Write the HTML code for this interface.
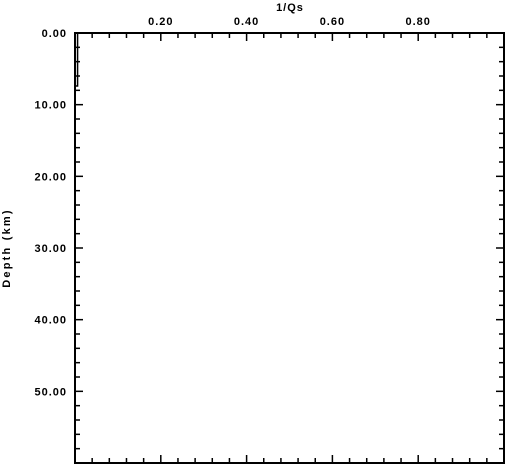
<!DOCTYPE html>
<html><head><meta charset="utf-8"><style>body{margin:0;background:#fff}svg{display:block}text{font-family:"Liberation Sans",sans-serif;font-weight:bold;font-size:11px;letter-spacing:1px}</style></head>
<body>
<svg id="chart" width="507" height="465" viewBox="0 0 507 465" xmlns="http://www.w3.org/2000/svg">
<g id="axes"></g>
<text x="290" y="11" text-anchor="middle" font-size="12">1/Qs</text>
<text transform="translate(10,248) rotate(-90)" text-anchor="middle" style="letter-spacing:2.2px">Depth (km)</text>
</svg>
<script>
const xTicks=[0.2,0.4,0.6,0.8];
const xTickLabels=["0.20","0.40","0.60","0.80"];
const yTicks=[0,10,20,30,40,50];
const yTickLabels=["0.00","10.00","20.00","30.00","40.00","50.00"];
const profileDepth=[0,7.4,7.4,60];
const profileQs=[0.006,0.006,0,0];
const L=75,R=504,T=33,B=463,xmax=1.0,ymax=60;
const X=v=>L+v/xmax*(R-L),Y=v=>T+v/ymax*(B-T);
const NS="http://www.w3.org/2000/svg",g=document.getElementById('axes');
function mk(t,a){const e=document.createElementNS(NS,t);for(const k in a)e.setAttribute(k,a[k]);g.appendChild(e);return e;}
for(let i=1;i<25;i++){const v=i*0.04,x=X(v),maj=Math.abs(v/0.2-Math.round(v/0.2))<1e-6;const len=maj?8:5;
const t1=mk('line',{x1:x,x2:x,y1:T,y2:T+len,stroke:'#000','stroke-width':1.5});
const t2=mk('line',{x1:x,x2:x,y1:B,y2:B-len,stroke:'#000','stroke-width':1.5});}
xTicks.forEach((v,i)=>{const t=mk('text',{x:X(v),y:25,'text-anchor':'middle'});t.textContent=xTickLabels[i];});
for(let d=2;d<ymax;d+=2){const y=Y(d),len=d%10==0?8:5;
const a=mk('line',{x1:L,x2:L+len,y1:y,y2:y,stroke:'#000','stroke-width':1.5});
const b=mk('line',{x1:R,x2:R-len,y1:y,y2:y,stroke:'#000','stroke-width':1.5});}
yTicks.forEach((v,i)=>{const t=mk('text',{x:L-8,y:Y(v)+4,'text-anchor':'end'});t.textContent=yTickLabels[i];});
const f=mk('rect',{x:L,y:T,width:R-L,height:B-T,fill:'none',stroke:'#000','stroke-width':2});
const p=mk('polyline',{points:profileDepth.map((d,i)=>X(profileQs[i])+','+Y(d)).join(' '),fill:'none',stroke:'#000','stroke-width':1.5});


</script>
</body></html>
